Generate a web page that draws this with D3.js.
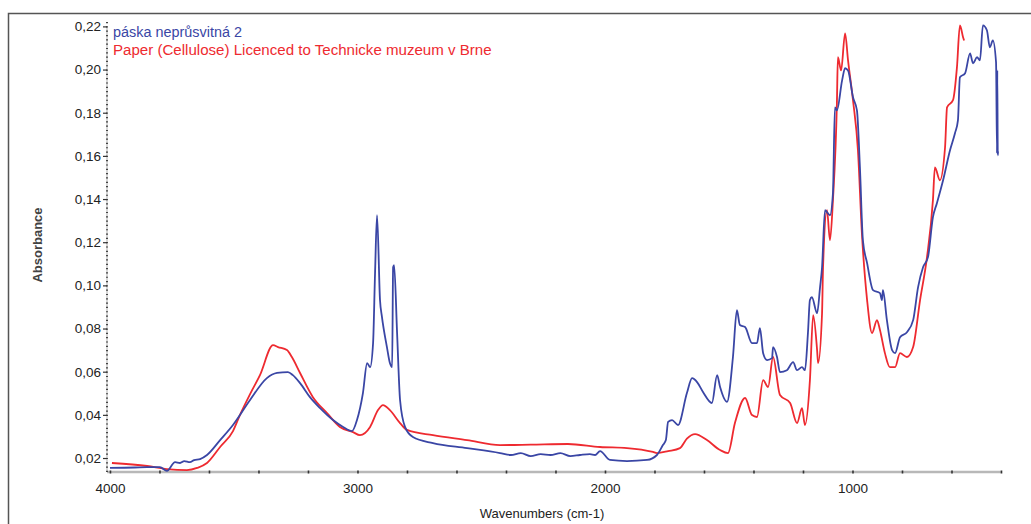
<!DOCTYPE html>
<html><head><meta charset="utf-8">
<script src="https://cdn.jsdelivr.net/npm/d3@7"></script>
<style>
body{margin:0;background:#fff;}
svg{display:block;font-family:"Liberation Sans",Arial,sans-serif;}
</style></head>
<body><svg id="c" width="1031" height="524"></svg>
<script>
const seriesNames = ["páska neprůsvitná 2", "Paper (Cellulose) Licenced to Technicke muzeum v Brne"];
const xTickLabels = [4000, 3000, 2000, 1000];
const yTickLabels = [0.02,0.04,0.06,0.08,0.10,0.12,0.14,0.16,0.18,0.20,0.22];

const blueWave = [4000,3900,3850,3798,3770,3737,3717,3700,3677,3660,3636,3608,3555,3503,3434,3366,3325,3281,3261,3232,3192,3151,3099,3058,3022,3002,2978,2961,2949,2937,2929,2921,2909,2901,2881,2869,2860,2856,2852,2840,2828,2808,2776,2695,2557,2424,2380,2340,2300,2260,2220,2180,2140,2101,2061,2040,2020,1980,1911,1830,1790,1766,1754,1745,1729,1705,1669,1648,1628,1604,1568,1547,1535,1507,1483,1467,1455,1434,1406,1386,1374,1361,1345,1325,1321,1305,1293,1265,1240,1224,1204,1192,1180,1172,1164,1143,1131,1123,1111,1091,1079,1071,1063,1042,1030,1018,998,982,970,958,941,917,889,881,877,861,840,828,808,780,755,735,715,695,675,659,634,606,586,574,566,545,525,513,497,485,473,457,445,433,420,416,415,413,412];
const blueAbs = [0.0154,0.0156,0.0158,0.0158,0.0140,0.0181,0.0177,0.0186,0.0181,0.0190,0.0195,0.0214,0.0283,0.0353,0.0469,0.0570,0.0594,0.0598,0.0584,0.0547,0.0482,0.0431,0.0376,0.0344,0.0325,0.0376,0.0501,0.0640,0.0621,0.0732,0.1057,0.1325,0.0932,0.0853,0.0714,0.0640,0.0621,0.1084,0.1094,0.0780,0.0469,0.0344,0.0297,0.0269,0.0246,0.0223,0.0214,0.0223,0.0209,0.0218,0.0214,0.0223,0.0209,0.0214,0.0218,0.0214,0.0232,0.0191,0.0186,0.0191,0.0214,0.0260,0.0283,0.0367,0.0376,0.0353,0.0501,0.0570,0.0552,0.0506,0.0455,0.0584,0.0529,0.0460,0.0668,0.0885,0.0816,0.0807,0.0732,0.0732,0.0802,0.0686,0.0654,0.0663,0.0714,0.0668,0.0598,0.0607,0.0644,0.0607,0.0621,0.0607,0.0779,0.0932,0.0945,0.0871,0.0992,0.1084,0.1348,0.1325,0.1427,0.1825,0.1811,0.1950,0.2006,0.1996,0.1872,0.1811,0.1547,0.1209,0.1103,0.0978,0.0964,0.0932,0.0978,0.0839,0.0700,0.0686,0.0760,0.0783,0.0839,0.0992,0.1084,0.1131,0.1316,0.1381,0.1487,0.1626,0.1705,0.1765,0.1964,0.1983,0.2075,0.2029,0.2057,0.2043,0.2205,0.2182,0.2103,0.2135,0.2033,0.1612,0.1996,0.1603,0.1620];

const redWave = [3992,3850,3770,3689,3648,3608,3555,3503,3475,3434,3394,3341,3321,3285,3265,3232,3180,3123,3071,3018,2990,2949,2917,2897,2869,2828,2800,2695,2557,2424,2300,2150,2020,1911,1806,1790,1745,1697,1669,1636,1588,1535,1503,1475,1434,1406,1386,1361,1341,1321,1293,1252,1224,1204,1192,1172,1159,1143,1139,1123,1119,1103,1091,1079,1063,1059,1046,1030,1018,998,978,962,941,921,901,889,869,849,828,808,780,755,727,699,675,667,647,626,618,594,578,566,553,549];
const redAbs = [0.0177,0.0163,0.0149,0.0144,0.0154,0.0177,0.0251,0.0325,0.0399,0.0496,0.0584,0.0723,0.0714,0.0700,0.0668,0.0594,0.0482,0.0408,0.0344,0.0320,0.0306,0.0344,0.0422,0.0445,0.0422,0.0362,0.0330,0.0306,0.0283,0.0260,0.0262,0.0265,0.0251,0.0246,0.0228,0.0223,0.0232,0.0246,0.0290,0.0311,0.0283,0.0237,0.0223,0.0362,0.0478,0.0399,0.0390,0.0561,0.0529,0.0668,0.0492,0.0455,0.0362,0.0431,0.0353,0.0561,0.0862,0.0700,0.0640,0.0871,0.1084,0.1348,0.1209,0.1395,0.1844,0.2057,0.1996,0.2168,0.2043,0.1858,0.1626,0.1242,0.0932,0.0779,0.0839,0.0793,0.0686,0.0621,0.0621,0.0686,0.0668,0.0714,0.0932,0.1131,0.1395,0.1547,0.1487,0.1640,0.1825,0.1858,0.2010,0.2205,0.2149,0.2135];

const svg = d3.select("#c");
const L = 107, R = 1001, T = 21, B = 472;
const x = d3.scaleLinear().domain([4012, 400]).range([L, R]);
const y = d3.scaleLinear().domain([0.01352, 0.2225]).range([B, T]);

// frame
svg.append("rect").attr("x",8.5).attr("y",13.5).attr("width",1100).attr("height",600)
  .attr("fill","none").attr("stroke","#555").attr("stroke-width",1.5);

// x axis
const xMinor = d3.range(4000, 399, -200);
const gx = svg.append("g").attr("transform",`translate(0,${B})`);
gx.append("line").attr("x1",L).attr("x2",R).attr("stroke","#b8b8b8").attr("stroke-width",2.5);
gx.call(d3.axisBottom(x).tickValues(xMinor).tickSize(3).tickFormat(""))
  .call(g=>g.select(".domain").remove())
  .call(g=>g.selectAll(".tick line").attr("stroke","#333").attr("stroke-width",1.6).attr("y1",-1.5).attr("y2",1.5));
const gxl = svg.append("g").attr("transform",`translate(0,${B})`)
  .call(d3.axisBottom(x).tickValues(xTickLabels).tickSize(0).tickPadding(11).tickFormat(d3.format("d")));
gxl.select(".domain").remove();
gxl.selectAll("text").attr("font-size",13.5).attr("fill","#222").attr("font-family","Liberation Sans, Arial, sans-serif");

// y axis
const yMinor = d3.range(0.014, 0.2221, 0.002);
const gy = svg.append("g").attr("transform",`translate(${L},0)`);
gy.append("line").attr("y1",y(0.22)).attr("y2",B).attr("stroke","#c8c8c8").attr("stroke-width",1.5);
gy.call(d3.axisLeft(y).tickValues(yMinor).tickSize(2).tickFormat(""))
  .call(g=>g.select(".domain").remove())
  .call(g=>g.selectAll(".tick line").attr("stroke","#444").attr("stroke-width",1.2).attr("x1",1).attr("x2",-1));
const gyl = svg.append("g").attr("transform",`translate(${L},0)`)
  .call(d3.axisLeft(y).tickValues(yTickLabels).tickSize(4).tickPadding(2)
    .tickFormat(d=>d3.format(".2f")(d).replace(".",",")));
gyl.select(".domain").remove();
gyl.selectAll(".tick line").attr("stroke","#333").attr("stroke-width",1.2);
gyl.selectAll("text").attr("font-size",13.5).attr("fill","#222").attr("font-family","Liberation Sans, Arial, sans-serif");

// axis titles
svg.append("text").attr("transform","translate(42,245) rotate(-90)").attr("text-anchor","middle")
  .attr("font-size",13).attr("fill","#222").attr("font-weight","bold").attr("opacity",0.85).text("Absorbance");
svg.append("text").attr("x",542).attr("y",518).attr("text-anchor","middle")
  .attr("font-size",13).attr("fill","#222").text("Wavenumbers (cm-1)");

// lines
const line = d3.line().x(d=>x(d[0])).y(d=>y(d[1])).curve(d3.curveMonotoneX);
const redData = redWave.map((w,i)=>[w,redAbs[i]]).sort((a,b)=>a[0]-b[0]);
const blueData = blueWave.map((w,i)=>[w,blueAbs[i]]).sort((a,b)=>a[0]-b[0]);
svg.append("path").datum(redData).attr("d",line).attr("fill","none").attr("stroke","#ee2a30").attr("stroke-width",1.8).attr("stroke-linejoin","round");
svg.append("path").datum(blueData).attr("d",line).attr("fill","none").attr("stroke","#3a46a5").attr("stroke-width",1.8).attr("stroke-linejoin","round");

// legend
const colors = ["#3a46a5","#ee2a30"];
const widths = [129, 379];
seriesNames.forEach((n,i)=>{
  const t = svg.append("text").attr("x",113).attr("y",[37,55][i]).attr("fill",colors[i])
    .attr("font-size",13).text(n);
  const w = t.node().getComputedTextLength();
  t.attr("font-size", 13*widths[i]/w);
});
</script></body></html>
